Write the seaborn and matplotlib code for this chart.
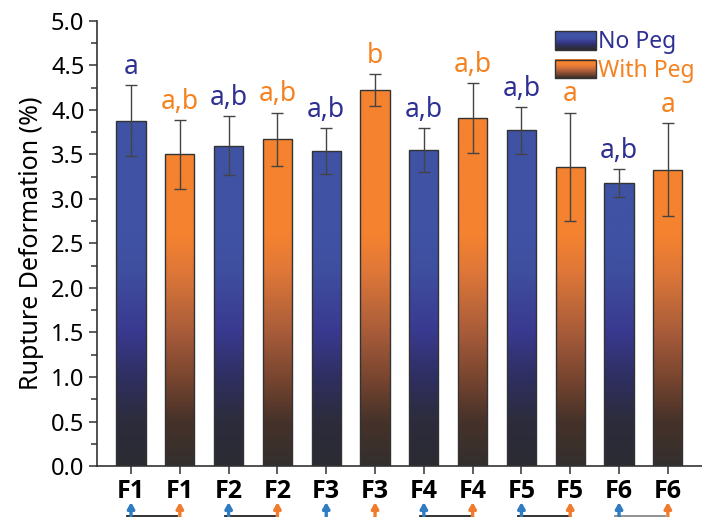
import numpy as np
import pandas as pd
import matplotlib
matplotlib.use("Agg")
import matplotlib.pyplot as plt
import seaborn as sns
from matplotlib.colors import to_rgb
from matplotlib.legend_handler import HandlerBase
from matplotlib.patches import Rectangle
from matplotlib.ticker import AutoMinorLocator, MultipleLocator
import matplotlib.transforms as mtransforms
from matplotlib import font_manager as fm

# ---------------- data ----------------
formulas = ["F1", "F1", "F2", "F2", "F3", "F3", "F4", "F4", "F5", "F5", "F6", "F6"]
groups = ["No Peg", "With Peg"] * 6
values = [3.88, 3.50, 3.60, 3.67, 3.54, 4.22, 3.55, 3.91, 3.77, 3.36, 3.18, 3.33]
errors = [0.40, 0.39, 0.33, 0.30, 0.26, 0.18, 0.25, 0.39, 0.26, 0.61, 0.16, 0.52]
letters = ["a", "a,b", "a,b", "a,b", "a,b", "b", "a,b", "a,b", "a,b", "a", "a,b", "a"]
linked_pairs = ["F1", "F2", "F4", "F5", "F6"]

BLUE = "#3f52a4"
ORANGE = "#f5822f"
BLUE_TXT = "#2e3192"
ORANGE_TXT = "#f58220"
ARROW_BLUE = "#2f7cc3"
ARROW_ORANGE = "#ef7b2e"

grad_stops = {
    "No Peg": [(0.0, "#2b2b33"), (0.5, "#2c2c3c"), (1.0, "#2f2f62"),
               (1.5, "#39398f"), (2.2, "#3f4fa0"), (2.6, "#3f52a4"), (6.0, "#3f52a4")],
    "With Peg": [(0.0, "#332f2e"), (0.5, "#463229"), (1.0, "#7a4630"),
                 (1.5, "#a85c3a"), (2.2, "#e07838"), (2.6, "#f5822f"), (6.0, "#f5822f")],
}


def grad_color(group, y):
    st = grad_stops[group]
    ys = np.array([s[0] for s in st])
    cs = np.array([to_rgb(s[1]) for s in st])
    return np.stack([np.interp(y, ys, cs[:, k]) for k in range(3)], axis=-1)


df = pd.DataFrame({"label": [f"{f} {g}" for f, g in zip(formulas, groups)],
                   "Formula": formulas, "Group": groups, "Value": values})

plt.rcParams["font.family"] = ["Noto Sans", "DejaVu Sans"]

bold_family = "Open Sans"
for fam in ["Noto Sans", "Open Sans", "DejaVu Sans"]:
    fp = fm.findfont(fm.FontProperties(family=fam, weight="bold"), fallback_to_default=False)
    if "bold" in fp.lower():
        bold_family = fam
        break

fig = plt.figure(figsize=(7.02, 5.17), dpi=100)
ax = fig.add_axes([0.138, 0.0986, 0.862, 0.861])

sns.barplot(data=df, x="label", y="Value", hue="Group", dodge=False,
            palette={"No Peg": BLUE, "With Peg": ORANGE}, width=0.6,
            errorbar=None, edgecolor="#333333", linewidth=1.0, legend=False, ax=ax)

bars = [p for p in ax.patches if isinstance(p, Rectangle) and p.get_height() > 0]
bars = sorted(bars, key=lambda p: p.get_x())
for p, g in zip(bars, groups):
    x0, w, h = p.get_x(), p.get_width(), p.get_height()
    ys = np.linspace(0, h, 300)
    img = grad_color(g, ys)[:, None, :]
    im = ax.imshow(img, extent=(x0, x0 + w, 0, h), origin="lower",
                   aspect="auto", interpolation="bilinear", zorder=p.get_zorder())
    im.set_clip_path(p)
    p.set_facecolor("none")
    p.set_zorder(p.get_zorder() + 0.1)

xs = np.arange(len(values))
ax.errorbar(xs, values, yerr=errors, fmt="none", ecolor="#444444",
            elinewidth=1.0, capsize=4, capthick=1.0, zorder=5)

for x, v, e, t, g in zip(xs, values, errors, letters, groups):
    ax.annotate(t, (x, v + e), xytext=(0, 3), textcoords="offset points",
                ha="center", va="bottom", fontsize=19,
                color=BLUE_TXT if g == "No Peg" else ORANGE_TXT)

ax.set_xlim(-0.70, 11.7)
ax.set_ylim(0, 5.0)
ax.yaxis.set_major_locator(MultipleLocator(0.5))
ax.yaxis.set_minor_locator(AutoMinorLocator(2))
ax.set_xticks(xs)
ax.set_xticklabels(formulas)
ax.tick_params(axis="y", labelsize=17, length=6, width=1.1, color="#333333", pad=3)
ax.tick_params(axis="y", which="minor", length=4, width=1.1, color="#333333")
ax.tick_params(axis="x", length=6, width=1.1, color="#333333", pad=3)
for lab in ax.get_xticklabels():
    lab.set_fontfamily(bold_family)
    lab.set_fontweight("bold")
    lab.set_fontsize(18)
ax.set_xlabel("")
ax.set_ylabel("Rupture Deformation (%)", fontsize=18, labelpad=5)
for s in ["top", "right"]:
    ax.spines[s].set_visible(False)
for s in ["left", "bottom"]:
    ax.spines[s].set_color("#333333")
    ax.spines[s].set_linewidth(1.2)

trans = mtransforms.blended_transform_factory(ax.transData, ax.transAxes)
for x, f, g in zip(xs, formulas, groups):
    c = ARROW_BLUE if g == "No Peg" else ARROW_ORANGE
    ax.annotate("", xy=(x, -0.075), xytext=(x, -0.12), xycoords=trans, textcoords=trans,
                arrowprops=dict(arrowstyle="-|>,head_length=0.35,head_width=0.2",
                                color=c, lw=2.4), annotation_clip=False)
for i in range(0, len(xs), 2):
    f = formulas[i]
    if f in linked_pairs:
        col = "#888888" if f == "F6" else "#222222"
        ax.plot([xs[i] - 0.08, xs[i + 1] - 0.05], [-0.112, -0.112], transform=trans,
                color=col, lw=1.3, clip_on=False)


class GradHandler(HandlerBase):
    def __init__(self, group):
        super().__init__()
        self.group = group

    def create_artists(self, legend, orig_handle, xdescent, ydescent, width, height,
                       fontsize, trans):
        arts = []
        n = 20
        for k in range(n):
            frac = k / n
            yval = 0.3 + frac * 3.2
            c = grad_color(self.group, yval)
            r = Rectangle((-xdescent, -ydescent + frac * height), width, height / n + 0.3,
                          facecolor=c, edgecolor="none", transform=trans)
            arts.append(r)
        arts.append(Rectangle((-xdescent, -ydescent), width, height, facecolor="none",
                              edgecolor="#333333", lw=1.0, transform=trans))
        return arts


h1 = Rectangle((0, 0), 1, 1)
h2 = Rectangle((0, 0), 1, 1)
leg = ax.legend([h1, h2], ["No Peg", "With Peg"], loc="upper left",
                bbox_to_anchor=(0.749, 0.989), frameon=False, fontsize=16.5,
                handler_map={h1: GradHandler("No Peg"), h2: GradHandler("With Peg")},
                handlelength=1.8, handleheight=0.88, handletextpad=0.1, labelspacing=0.2,
                borderaxespad=0.0, borderpad=0.2)
for t, c in zip(leg.get_texts(), [BLUE_TXT, ORANGE_TXT]):
    t.set_color(c)

fig.savefig("out.png", dpi=100)
